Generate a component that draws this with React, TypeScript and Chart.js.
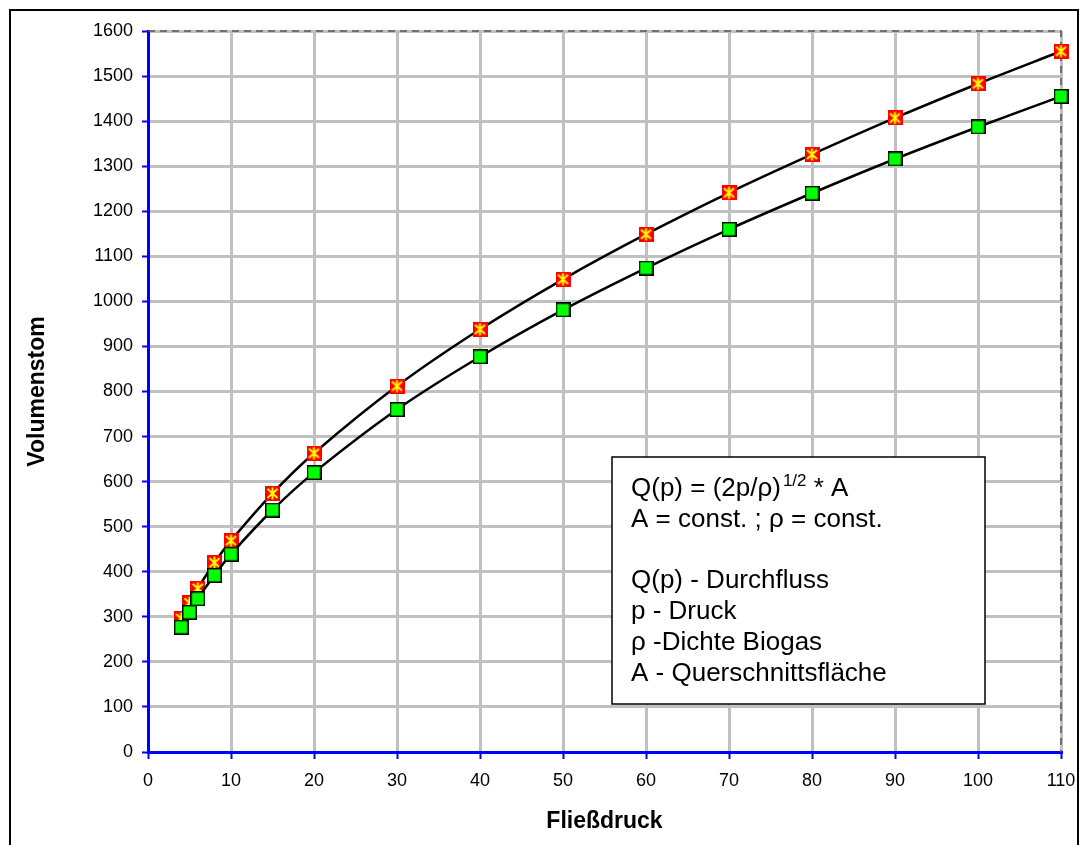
import React, { useEffect, useRef } from "react";
import { Chart, registerables } from "chart.js";

Chart.register(...registerables);

// ---- data ----
const pressures = [4, 5, 6, 8, 10, 15, 20, 30, 40, 50, 60, 70, 80, 90, 100, 110];
const flowUpper = [296, 331, 363, 420, 469, 574, 663, 812, 938, 1049, 1149, 1241, 1326, 1407, 1483, 1555];
const flowLower = [277, 310, 340, 392, 439, 537, 620, 760, 877, 981, 1074, 1160, 1240, 1316, 1387, 1455];
const xRange = [0, 110];
const yRange = [0, 1600];
const xStep = 10;
const yStep = 100;
const xTitle = "Fließdruck";
const yTitle = "Volumenstom";
const noteFormulaMain = "Q(p) = (2p/ρ)";
const noteFormulaSup = "1/2";
const noteFormulaTail = " * A";
const noteLines = [
  "A = const. ; ρ = const.",
  "",
  "Q(p) - Durchfluss",
  "p - Druck",
  "ρ -Dichte Biogas",
  "A - Querschnittsfläche",
];

const FONT = "'Liberation Sans', Arial, sans-serif";
const W = 1082;
const H = 845;

function makeRedStar(): HTMLCanvasElement {
  const c = document.createElement("canvas");
  c.width = 15;
  c.height = 15;
  const g = c.getContext("2d")!;
  g.fillStyle = "#FF0000";
  g.fillRect(0, 0, 15, 15);
  g.strokeStyle = "#FFFF00";
  g.lineWidth = 2;
  g.beginPath();
  g.moveTo(2.5, 3);
  g.lineTo(12.5, 12);
  g.moveTo(12.5, 3);
  g.lineTo(2.5, 12);
  g.moveTo(7.5, 1.5);
  g.lineTo(7.5, 13.5);
  g.stroke();
  return c;
}

function makeGreenSquare(): HTMLCanvasElement {
  const c = document.createElement("canvas");
  c.width = 15;
  c.height = 15;
  const g = c.getContext("2d")!;
  g.fillStyle = "#00FF00";
  g.fillRect(0, 0, 15, 15);
  g.strokeStyle = "#000000";
  g.lineWidth = 1.5;
  g.strokeRect(0.75, 0.75, 13.5, 13.5);
  return c;
}

const framePlugin = {
  id: "frame",
  beforeDraw(chart: any) {
    const ctx = chart.ctx;
    ctx.save();
    ctx.fillStyle = "#FFFFFF";
    ctx.fillRect(0, 0, W, H);
    ctx.strokeStyle = "#000000";
    ctx.lineWidth = 2;
    ctx.beginPath();
    ctx.moveTo(10, H + 10);
    ctx.lineTo(10, 10);
    ctx.lineTo(1078, 10);
    ctx.lineTo(1078, H + 10);
    ctx.stroke();
    ctx.restore();
  },
  beforeDatasetsDraw(chart: any) {
    const ctx = chart.ctx;
    const a = chart.chartArea;
    ctx.save();
    ctx.strokeStyle = "#555555";
    ctx.lineWidth = 1.5;
    ctx.setLineDash([7, 5]);
    ctx.beginPath();
    ctx.moveTo(a.left, a.top);
    ctx.lineTo(a.right, a.top);
    ctx.lineTo(a.right, a.bottom);
    ctx.stroke();
    ctx.restore();
  },
  afterDraw(chart: any) {
    const ctx = chart.ctx;
    const a = chart.chartArea;
    ctx.save();
    // axis titles
    ctx.fillStyle = "#000000";
    ctx.font = `bold 23px ${FONT}`;
    ctx.textAlign = "center";
    ctx.textBaseline = "alphabetic";
    ctx.fillText(xTitle, (a.left + a.right) / 2, 828);
    ctx.translate(44, (a.top + a.bottom) / 2);
    ctx.rotate(-Math.PI / 2);
    ctx.fillText(yTitle, 0, 0);
    ctx.restore();

    // note box
    ctx.save();
    ctx.fillStyle = "#FFFFFF";
    ctx.fillRect(612, 457, 373, 247);
    ctx.strokeStyle = "#000000";
    ctx.lineWidth = 1.5;
    ctx.strokeRect(612, 457, 373, 247);
    ctx.fillStyle = "#000000";
    ctx.textAlign = "left";
    ctx.textBaseline = "alphabetic";
    const x0 = 631;
    const base0 = 496;
    const lh = 30.8;
    ctx.font = `26px ${FONT}`;
    ctx.fillText(noteFormulaMain, x0, base0);
    let xx = x0 + ctx.measureText(noteFormulaMain).width + 2;
    ctx.font = `17px ${FONT}`;
    ctx.fillText(noteFormulaSup, xx, base0 - 10);
    xx += ctx.measureText(noteFormulaSup).width;
    ctx.font = `26px ${FONT}`;
    ctx.fillText(noteFormulaTail, xx, base0);
    noteLines.forEach((t, i) => {
      if (t) ctx.fillText(t, x0, base0 + lh * (i + 1));
    });
    ctx.restore();
  },
};

export default function App() {
  const ref = useRef<HTMLCanvasElement | null>(null);

  useEffect(() => {
    const canvas = ref.current;
    if (!canvas) return;
    const red = makeRedStar();
    const green = makeGreenSquare();
    const tickFont = { family: FONT, size: 18 };

    const chart = new Chart(canvas, {
      type: "line",
      data: {
        datasets: [
          {
            label: "lower",
            data: pressures.map((p, i) => ({ x: p, y: flowLower[i] })),
            borderColor: "#000000",
            borderWidth: 2.5,
            tension: 0.35,
            pointStyle: green as any,
            pointRadius: 7,
            clip: false as any,
          },
          {
            label: "upper",
            data: pressures.map((p, i) => ({ x: p, y: flowUpper[i] })),
            borderColor: "#000000",
            borderWidth: 2.5,
            tension: 0.35,
            pointStyle: red as any,
            pointRadius: 7,
            clip: false as any,
          },
        ],
      },
      options: {
        animation: false,
        responsive: false,
        devicePixelRatio: 1,
        events: [],
        layout: { padding: { left: 0, top: 31, right: 21, bottom: 0 } },
        plugins: {
          legend: { display: false },
          tooltip: { enabled: false },
        },
        scales: {
          x: {
            type: "linear",
            min: xRange[0],
            max: xRange[1],
            ticks: {
              stepSize: xStep,
              font: tickFont,
              color: "#000000",
              padding: 11,
              maxRotation: 0,
              autoSkip: false,
              callback: (v: any) => String(v),
            },
            grid: {
              color: "#C0C0C0",
              lineWidth: 3,
              tickColor: "#0000FF",
              tickLength: 7,
              tickWidth: 2,
            },
            border: { color: "#0000FF", width: 3 },
            afterFit: (s: any) => {
              s.height = H - 752;
              s.paddingLeft = 0;
              s.paddingRight = 0;
            },
          },
          y: {
            type: "linear",
            min: yRange[0],
            max: yRange[1],
            ticks: {
              stepSize: yStep,
              font: tickFont,
              color: "#000000",
              padding: 9,
              autoSkip: false,
              callback: (v: any) => String(v),
            },
            grid: {
              color: "#C0C0C0",
              lineWidth: 3,
              tickColor: "#0000FF",
              tickLength: 6,
              tickWidth: 2,
            },
            border: { color: "#0000FF", width: 3 },
            afterFit: (s: any) => {
              s.width = 148;
              s.paddingTop = 0;
              s.paddingBottom = 0;
            },
          },
        },
      },
      plugins: [framePlugin],
    });
    return () => chart.destroy();
  }, []);

  return (
    <canvas
      ref={ref}
      width={W}
      height={H}
      style={{ position: "fixed", left: 0, top: 0, width: W, height: H, display: "block" }}
    />
  );
}
